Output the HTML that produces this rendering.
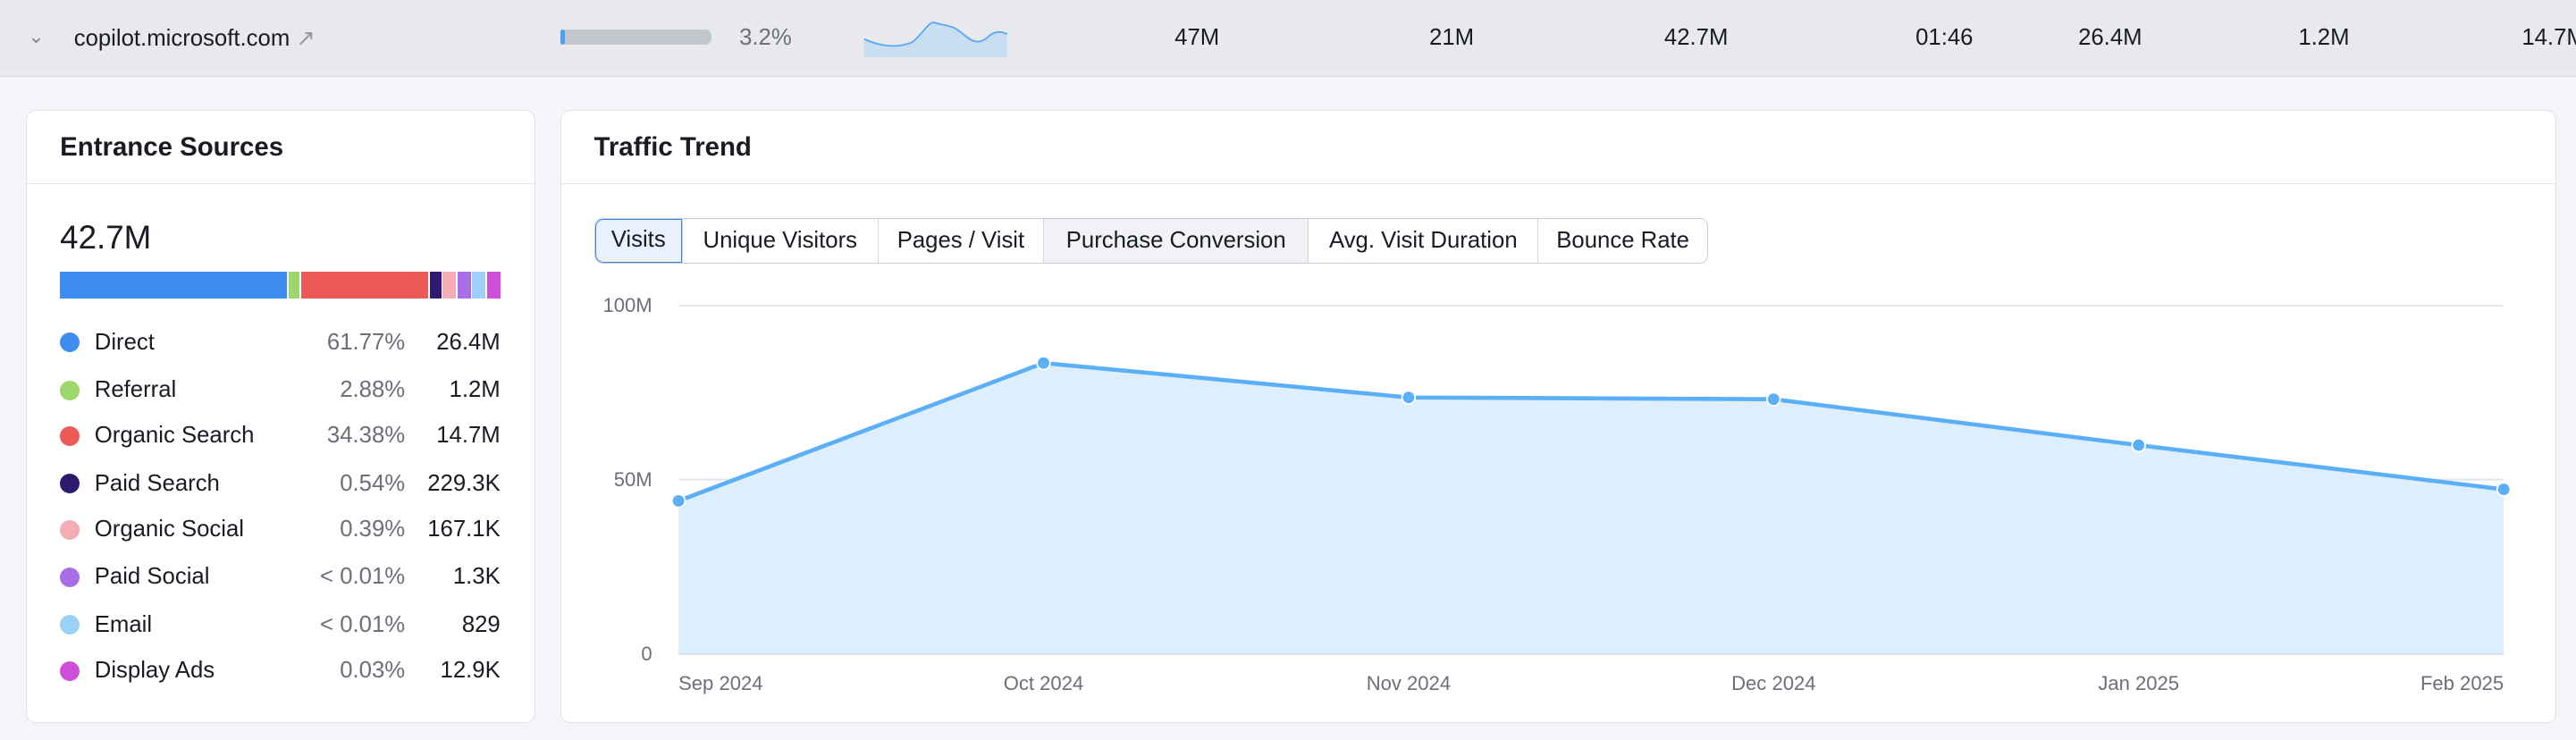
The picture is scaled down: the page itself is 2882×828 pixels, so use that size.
<!DOCTYPE html>
<html><head><meta charset="utf-8">
<style>
html,body{margin:0;padding:0;}
body{width:1568px;height:450px;zoom:1.838;background:#f4f5f9;font-family:"Liberation Sans",sans-serif;color:#191b23;overflow:hidden;position:relative;}
.abs{position:absolute;}
.row{left:0;top:0;width:1568px;height:46px;background:#e8e9ed;border-bottom:1px solid #dcdde3;}
.row .t{position:absolute;top:15px;font-size:14px;}
.card{background:#fff;border:1px solid #e0e1e9;border-radius:6px;}
.hd{position:absolute;left:0;right:0;top:0;height:44px;border-bottom:1px solid #e4e5ea;}
.hd span{position:absolute;left:20px;top:13px;font-size:16px;font-weight:bold;}
.leg{position:absolute;left:20px;width:268px;height:20px;font-size:14px;}
.leg .d{position:absolute;left:0;top:3px;width:12px;height:12px;border-radius:50%;}
.leg .n{position:absolute;left:21px;top:1px;}
.leg .p{position:absolute;right:58px;top:1px;color:#6c6e79;}
.leg .v{position:absolute;right:0;top:1px;}
.tabs{position:absolute;left:20px;top:65px;height:27px;border:1px solid #c9cbd4;border-radius:5px;display:flex;overflow:hidden;}
.tab{box-sizing:border-box;text-align:center;line-height:27px;font-size:14px;border-left:1px solid #d4d6dd;white-space:nowrap;}
.tab:first-child{border-left:none;background:#e8f1fd;border:1px solid #3c7fe0;border-radius:5px 0 0 5px;line-height:25px;}
</style></head><body>
<div class="abs row">
  <div class="t" style="left:17px;color:#888;font-size:12px">&#8964;</div>
  <div class="t" style="left:45px">copilot.microsoft.com <span style="color:#999">&#8599;</span></div>
  <div class="abs" style="left:341px;top:18px;width:92px;height:9px;background:#c4c6cd;border-radius:4px"><div style="width:3px;height:9px;background:#4aa1f3;border-radius:4px"></div></div>
  <div class="t" style="left:450px;color:#6c6e79">3.2%</div>
  <svg class="abs" style="left:525px;top:10px" width="90" height="26">
    <path d="M1,14 C10,18 20,20 30,16 C36,12 40,3 44,4 C50,6 54,5 60,10 C66,15 70,18 76,13 C80,9 84,9 88,11 L88,25 L1,25Z" fill="#c9ddf3"/>
    <path d="M1,14 C10,18 20,20 30,16 C36,12 40,3 44,4 C50,6 54,5 60,10 C66,15 70,18 76,13 C80,9 84,9 88,11" fill="none" stroke="#5aa9f5" stroke-width="1"/>
  </svg>
  <div class="t" style="left:715px">47M</div>
  <div class="t" style="left:870px">21M</div>
  <div class="t" style="left:1013px">42.7M</div>
  <div class="t" style="left:1166px">01:46</div>
  <div class="t" style="left:1265px">26.4M</div>
  <div class="t" style="left:1399px">1.2M</div>
  <div class="t" style="left:1535px">14.7M</div>
</div>

<div class="abs card" style="left:16px;top:67px;width:309px;height:372px">
  <div class="hd"><span>Entrance Sources</span></div>
  <div class="abs" style="left:20px;top:66px;font-size:20px">42.7M</div>
  <div class="abs" style="left:20px;top:98px;width:269px;height:16px;display:flex;gap:1px">
    <div style="width:138px;background:#3d8ef0"></div><div style="width:7px;background:#9dd66a"></div><div style="width:77px;background:#ec5a57"></div><div style="width:7px;background:#2d1a6e"></div><div style="width:8px;background:#f4aeb3"></div><div style="width:8px;background:#a86ee8"></div><div style="width:8px;background:#9cd0f7"></div><div style="width:8px;background:#d04fd8"></div>
  </div>
  <div class="leg" style="top:132px"><div class="d" style="background:#3d8ef0"></div><span class="n">Direct</span><span class="p">61.77%</span><span class="v">26.4M</span></div>
  <div class="leg" style="top:161px"><div class="d" style="background:#9dd66a"></div><span class="n">Referral</span><span class="p">2.88%</span><span class="v">1.2M</span></div>
  <div class="leg" style="top:189px"><div class="d" style="background:#ec5a57"></div><span class="n">Organic Search</span><span class="p">34.38%</span><span class="v">14.7M</span></div>
  <div class="leg" style="top:218px"><div class="d" style="background:#2d1a6e"></div><span class="n">Paid Search</span><span class="p">0.54%</span><span class="v">229.3K</span></div>
  <div class="leg" style="top:246px"><div class="d" style="background:#f4aeb3"></div><span class="n">Organic Social</span><span class="p">0.39%</span><span class="v">167.1K</span></div>
  <div class="leg" style="top:275px"><div class="d" style="background:#a86ee8"></div><span class="n">Paid Social</span><span class="p">&lt; 0.01%</span><span class="v">1.3K</span></div>
  <div class="leg" style="top:304px"><div class="d" style="background:#9cd0f7"></div><span class="n">Email</span><span class="p">&lt; 0.01%</span><span class="v">829</span></div>
  <div class="leg" style="top:332px"><div class="d" style="background:#d04fd8"></div><span class="n">Display Ads</span><span class="p">0.03%</span><span class="v">12.9K</span></div>
</div>

<div class="abs card" style="left:341px;top:67px;width:1214px;height:372px">
  <div class="hd"><span>Traffic Trend</span></div>
  <div class="tabs">
    <div class="tab" style="width:53px">Visits</div>
    <div class="tab" style="width:119px">Unique Visitors</div>
    <div class="tab" style="width:101px">Pages / Visit</div>
    <div class="tab" style="width:161px;background:#f1f2f6">Purchase Conversion</div>
    <div class="tab" style="width:140px">Avg. Visit Duration</div>
    <div class="tab" style="width:103px">Bounce Rate</div>
  </div>
</div>
<svg class="abs" id="chart" style="left:0;top:0" width="1568" height="450"></svg>
<script>
const months=["Sep 2024","Oct 2024","Nov 2024","Dec 2024","Jan 2025","Feb 2025"];
const visits=[43.9,83.5,73.6,73.1,59.9,47.2];
const yTicks=[0,50,100];
const yLabels=["0","50M","100M"];
const NS="http://www.w3.org/2000/svg";
const svg=document.getElementById('chart');
const x0=413,x1=1524,yb=398,yt=186;
const xs=i=>x0+(x1-x0)*i/(months.length-1);
const ys=v=>yb-(yb-yt)*v/100;
function mk(t,a){const e=document.createElementNS(NS,t);for(const k in a)e.setAttribute(k,a[k]);svg.appendChild(e);return e;}
yTicks.forEach((t,i)=>{
  const g=mk('line',{x1:x0,x2:x1,y1:ys(t),y2:ys(t),stroke:t===0?'#c9cbd4':'#e3e4ea','stroke-width':1});
  
  
  const l=mk('text',{x:397,y:ys(t)+4,'text-anchor':'end','font-size':12,fill:'#6c6e79','font-family':'Liberation Sans, sans-serif'});
  l.textContent=yLabels[i];
  
  
});
let pts=visits.map((v,i)=>xs(i)+','+ys(v)).join(' ');
const area=mk('polygon',{points:pts+' '+x1+','+yb+' '+x0+','+yb,fill:'#ddeefc'});


const line=mk('polyline',{points:pts,fill:'none',stroke:'#5aaff6','stroke-width':2.5});


visits.forEach((v,i)=>{
  const c=mk('circle',{cx:xs(i),cy:ys(v),r:4,fill:'#5aaff6',stroke:'#fff','stroke-width':1});
  
  
});
months.forEach((m,i)=>{
  const anc=i===0?'start':(i===months.length-1?'end':'middle');
  const t=mk('text',{x:xs(i),y:420,'text-anchor':anc,'font-size':12,fill:'#6c6e79','font-family':'Liberation Sans, sans-serif'});
  t.textContent=m;
  
  
});
</script>
</body></html>
